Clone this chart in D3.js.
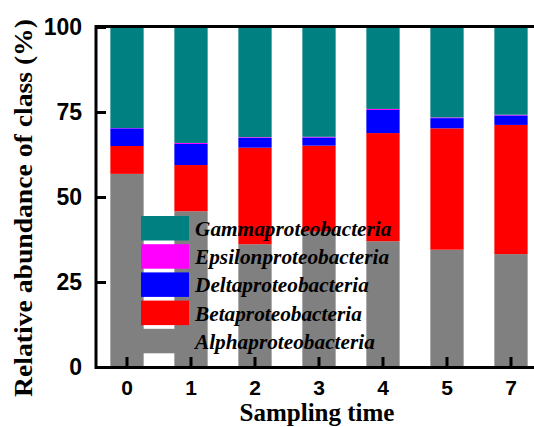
<!DOCTYPE html>
<html>
<head>
<meta charset="utf-8">
<script src="https://cdn.jsdelivr.net/npm/d3@7"></script>
<style>
  body { margin: 0; background: #fff; }
  svg { display: block; }
</style>
</head>
<body>
<svg id="chart" width="534" height="427" viewBox="0 0 534 427"></svg>
<script>
// Sampling times and class abundances (%)
const times = ["0", "1", "2", "3", "4", "5", "7"];
const alpha   = [56.8, 45.8, 36.1, 39.8, 37.0, 34.5, 33.2];
const beta    = [ 8.2, 13.6, 28.4, 25.3, 31.8, 35.7, 38.0];
const delta   = [ 5.2,  6.2,  2.9,  2.4,  6.8,  3.0,  2.8];
const epsilon = [ 0.1,  0.3,  0.2,  0.2,  0.3,  0.2,  0.2];
const gamma   = [29.7, 34.1, 32.4, 32.3, 24.1, 26.6, 25.8];
const classNames = ["Alphaproteobacteria", "Betaproteobacteria", "Deltaproteobacteria",
                    "Epsilonproteobacteria", "Gammaproteobacteria"];
const yTicks = [0, 25, 50, 75, 100];

const svg = d3.select("#chart");

// Build rows for d3.stack from the arrays
const series = [alpha, beta, delta, epsilon, gamma];
const rows = times.map((t, i) => {
    const r = { time: t };
    classNames.forEach((c, k) => r[c] = series[k][i]);
    return r;
});
const colors = d3.scaleOrdinal()
    .domain(classNames)
    .range(["#808080", "#ff0000", "#0000ff", "#ff00ff", "#008080"]);

// Scales
const x = d3.scaleBand()
    .domain(times)
    .range([95, 543])
    .paddingInner(0.48)
    .paddingOuter(0.24);
const y = d3.scaleLinear()
    .domain([0, 100])
    .range([367, 27]);

// Stacked bars
const stacked = d3.stack().keys(classNames)(rows);
svg.append("g")
    .selectAll("g")
    .data(stacked)
    .enter()
    .append("g")
    .attr("fill", d => colors(d.key))
    .selectAll("rect")
    .data(d => d)
    .enter()
    .append("rect")
    .attr("x", d => x(d.data.time))
    .attr("width", x.bandwidth())
    .attr("y", d => y(d[1]))
    .attr("height", d => y(d[0]) - y(d[1]));

// Legend (drawn over the bars, no box)
const legend = svg.append("g").attr("transform", "translate(141,216)");
const legendItems = classNames.slice().reverse();
const item = legend.selectAll("g")
    .data(legendItems)
    .enter()
    .append("g")
    .attr("transform", (d, i) => "translate(0," + i * 28.2 + ")");
item.append("rect")
    .attr("width", 48)
    .attr("height", 24.5)
    .attr("fill", d => colors(d));
item.append("text")
    .attr("x", 54)
    .attr("y", 20)
    .text(d => d)
    .style("font-family", "'Liberation Serif', 'Times New Roman', serif")
    .style("font-weight", "bold")
    .style("font-style", "italic")
    .style("font-size", "21.3px")
    .attr("fill", "#000");

// Axes
const tickFont = "'Liberation Sans', Arial, sans-serif";
const yAxis = d3.axisRight(y)
    .tickValues(yTicks)
    .tickSize(10)
    .tickFormat("");
svg.append("g")
    .attr("transform", "translate(96,0)")
    .call(yAxis)
    .call(g => g.select(".domain").remove())
    .call(g => g.selectAll(".tick line").attr("stroke", "#000").attr("stroke-width", 3));

const xAxis = d3.axisTop(x)
    .tickSize(10)
    .tickFormat("");
svg.append("g")
    .attr("transform", "translate(0,367)")
    .call(xAxis)
    .call(g => g.select(".domain").remove())
    .call(g => g.selectAll(".tick line").attr("stroke", "#000").attr("stroke-width", 3));

// Frame lines: left, bottom, top
svg.append("path")
    .attr("d", "M534,26.5H96V367.5H534")
    .attr("fill", "none")
    .attr("stroke", "#000")
    .attr("stroke-width", 3);

// Tick labels
svg.append("g")
    .selectAll("text")
    .data(yTicks)
    .enter()
    .append("text")
    .attr("x", 82)
    .attr("y", d => y(d))
    .attr("dy", "0.36em")
    .attr("text-anchor", "end")
    .text(d => d)
    .style("font-family", tickFont)
    .style("font-weight", "bold")
    .style("font-size", "23px");

svg.append("g")
    .selectAll("text")
    .data(times)
    .enter()
    .append("text")
    .attr("x", d => x(d) + x.bandwidth() / 2)
    .attr("y", 395)
    .attr("text-anchor", "middle")
    .text(d => d)
    .style("font-family", tickFont)
    .style("font-weight", "bold")
    .style("font-size", "21px");

// Axis titles
svg.append("text")
    .attr("x", 317)
    .attr("y", 421)
    .attr("text-anchor", "middle")
    .text("Sampling time")
    .style("font-family", "'Liberation Serif', 'Times New Roman', serif")
    .style("font-weight", "bold")
    .style("font-size", "25px");

svg.append("text")
    .attr("transform", "translate(32,208) rotate(-90)")
    .attr("text-anchor", "middle")
    .attr("textLength", 378)
    .attr("lengthAdjust", "spacingAndGlyphs")
    .text("Relative abundance of class (%)")
    .style("font-family", "'Liberation Serif', 'Times New Roman', serif")
    .style("font-weight", "bold")
    .style("font-size", "25px");
</script>
</body>
</html>
